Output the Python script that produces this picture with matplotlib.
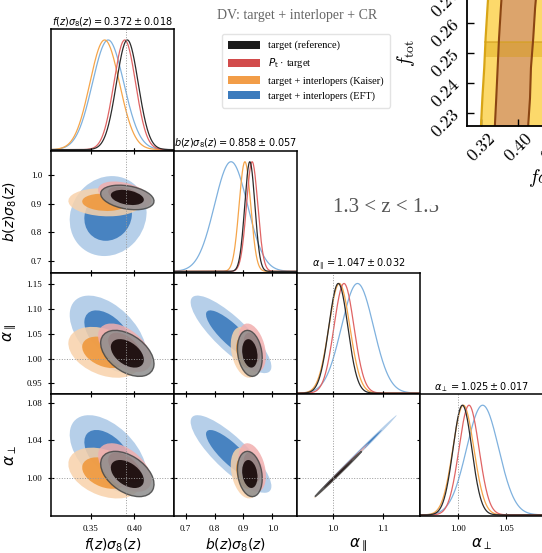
import numpy as np
import matplotlib
matplotlib.use("Agg")
import matplotlib.pyplot as plt
from matplotlib.patches import Ellipse, Patch, Rectangle

W, H = 542, 553

# parameters of the corner plot
labels = [r"$f(z)\sigma_8(z)$", r"$b(z)\sigma_8(z)$", r"$\alpha_\parallel$", r"$\alpha_\perp$"]
titles = [r"$f(z)\sigma_8(z) = 0.372 \pm 0.018$", r"$b(z)\sigma_8(z) = 0.858 \pm 0.057$",
          r"$\alpha_\parallel = 1.047 \pm 0.032$", r"$\alpha_\perp = 1.025 \pm 0.017$"]
lims = [(0.3045, 0.4455), (0.660, 1.085), (0.928, 1.174), (0.960, 1.089)]
xticks = [[0.35, 0.40], [0.7, 0.8, 0.9, 1.0], [1.0, 1.1], [1.00, 1.05]]
xticklabels = [["0.35", "0.40"], ["0.7", "0.8", "0.9", "1.0"], ["1.0", "1.1"], ["1.00", "1.05"]]
yticks = [[], [0.7, 0.8, 0.9, 1.0], [0.95, 1.00, 1.05, 1.10, 1.15], [1.00, 1.04, 1.08]]
yticklabels = [[], ["0.7", "0.8", "0.9", "1.0"], ["0.95", "1.00", "1.05", "1.10", "1.15"], ["1.00", "1.04", "1.08"]]
truths = [0.39, None, 1.0, 1.0]

# chains: names, means, sigmas (fs8, bs8, apar, aper), correlations
chain_names = ["target (reference)", r"$P_{\rm t}$ · target",
               "target + interlopers (Kaiser)", "target + interlopers (EFT)"]
mean_ref = [0.392, 0.922, 1.0106, 1.0045]
mean_pt = [0.389, 0.930, 1.0220, 1.0114]
mean_kai = [0.366, 0.905, 1.0127, 1.0055]
mean_eft = [0.370, 0.857, 1.0490, 1.0257]
sig_ref = [0.0125, 0.0175, 0.0190, 0.0098]
sig_pt = [0.0125, 0.0195, 0.0200, 0.0105]
sig_kai = [0.0170, 0.0200, 0.0210, 0.0110]
sig_eft = [0.0180, 0.0570, 0.0320, 0.0168]
# correlation for pairs (0,1),(0,2),(0,3),(1,2),(1,3),(2,3)
corr_ref = [-0.30, -0.45, -0.45, -0.20, -0.20, 0.998]
corr_pt = [-0.40, -0.50, -0.50, -0.35, -0.35, 0.998]
corr_kai = [-0.10, -0.35, -0.35, -0.30, -0.30, 0.998]
corr_eft = [0.10, -0.50, -0.50, -0.83, -0.83, 0.998]
pairs = [(0, 1), (0, 2), (0, 3), (1, 2), (1, 3), (2, 3)]

line_cols = ["#2b2b2b", "#e06464", "#f5a54a", "#7fb1de"]
outer_cols = ["#8e8e8e", "#f1aeae", "#f8d2ab", "#a9c7e6"]
inner_cols = ["#150707", "#d24b4b", "#f0993d", "#3c7bbd"]
legend_cols = ["#1c1c1c", "#d24b4b", "#f29d48", "#3c7bbd"]

means = [mean_ref, mean_pt, mean_kai, mean_eft]
sigs = [sig_ref, sig_pt, sig_kai, sig_eft]
corrs = [corr_ref, corr_pt, corr_kai, corr_eft]

# overlay panel (f_tot) boundaries
y_ft = [0.2257, 0.235, 0.245, 0.255, 0.265, 0.272]
x_outer_left = [0.320, 0.323, 0.327, 0.330, 0.334, 0.337]
x_inner_left = [0.350, 0.353, 0.356, 0.359, 0.363, 0.366]
x_inner_right = [0.422, 0.426, 0.428, 0.433, 0.437, 0.441]
x_outer_right = [0.60, 0.60, 0.60, 0.60, 0.60, 0.60]
band_y = (0.2487, 0.2537)
band_x = [0.3285, 0.60]


def px(l, t, w, h):
    return [l / W, 1 - (t + h) / H, w / W, h / H]


def ellipse(ax, mx, my, sx, sy, r, k, **kw):
    cov = np.array([[sx * sx, r * sx * sy], [r * sx * sy, sy * sy]])
    vals, vecs = np.linalg.eigh(cov)
    ang = np.degrees(np.arctan2(vecs[1, 1], vecs[0, 1]))
    e = Ellipse((mx, my), 2 * k * np.sqrt(vals[1]), 2 * k * np.sqrt(vals[0]), angle=ang, **kw)
    ax.add_patch(e)


fig = plt.figure(figsize=(W / 100, H / 100), dpi=100)

col_l = [51, 174, 297, 420]
col_w = 123
row_t = [29 + i * 121.75 for i in range(4)]
row_h = 121.75
serif = "Liberation Serif"
k68, k95 = 1.515, 2.448

for i in range(4):
    for j in range(i + 1):
        ax = fig.add_axes(px(col_l[j], row_t[i], col_w, row_h))
        for s in ax.spines.values():
            s.set_linewidth(1.1)
        ax.set_xlim(lims[j])
        ax.set_xticks(xticks[j])
        if i == 3:
            ax.set_xticklabels(xticklabels[j], fontfamily=serif, fontsize=6.5)
            ax.set_xlabel(labels[j], fontsize=10 if j < 2 else 11)
            ax.xaxis.set_label_coords(0.5, -0.17)
        else:
            ax.set_xticklabels([])
        if i == j:
            xs = np.linspace(lims[j][0], lims[j][1], 300)
            for c in [3, 2, 1, 0]:
                m, s = means[c][j], sigs[c][j]
                ax.plot(xs, np.exp(-0.5 * ((xs - m) / s) ** 2), color=line_cols[c], lw=0.9)
            ax.set_ylim(-0.01, 1.1)
            ax.set_yticks([])
            ax.tick_params(axis="x", direction="inout", length=5, width=0.8, bottom=True, top=False, pad=4)
            if truths[j] is not None:
                ax.axvline(truths[j], color="#999999", ls=":", lw=0.7)
            ax.set_title(titles[j], fontsize=7, pad=3)
        else:
            ax.set_ylim(lims[i])
            ax.set_yticks(yticks[i])
            if j == 0:
                ax.set_yticklabels(yticklabels[i], fontfamily=serif, fontsize=6.5)
                ax.set_ylabel(labels[i], fontsize=10 if i == 1 else 11)
                ax.yaxis.set_label_coords(-0.26, 0.5)
            else:
                ax.set_yticklabels([])
            ax.tick_params(direction="inout", length=5, width=0.8, top=True, right=True, pad=4)
            p = pairs.index((j, i))
            for c in [3, 2, 1, 0]:
                mx, my = means[c][j], means[c][i]
                sx, sy = sigs[c][j], sigs[c][i]
                r = corrs[c][p]
                edge = "#454545" if c == 0 else "none"
                ellipse(ax, mx, my, sx, sy, r, k95, facecolor=outer_cols[c], alpha=0.85,
                        edgecolor=edge, lw=1.0)
                ellipse(ax, mx, my, sx, sy, r, k68, facecolor=inner_cols[c], alpha=0.9,
                        edgecolor="none")
            if truths[j] is not None:
                ax.axvline(truths[j], color="#999999", ls=":", lw=0.7)
            if truths[i] is not None:
                ax.axhline(truths[i], color="#999999", ls=":", lw=0.7)

# overlay of the neighbouring figure (top right)
ax_ft = fig.add_axes(px(466.7, -40, 162.6, 166))
ax_ft.set_xlim(0.2891, 0.6407)
ax_ft.set_ylim(0.2257, 0.2810)
ax_ft.fill_betweenx(y_ft, x_outer_left, x_outer_right, color="#fcd96b", lw=0)
ax_ft.fill_betweenx(y_ft, x_inner_left, x_inner_right, color="#dca46c", lw=0)
ax_ft.fill_between(band_x, band_y[0], band_y[1], color="#d49a00", alpha=0.35, lw=0)
ax_ft.plot(band_x, [band_y[1], band_y[1]], color="#d4a020", lw=1.2, alpha=0.7)
ax_ft.plot(x_outer_left, y_ft, color="#d8a516", lw=1.6)
ax_ft.plot(x_inner_left, y_ft, color="#8b4513", lw=1.5)
ax_ft.plot(x_inner_right, y_ft, color="#8b4513", lw=1.5)
for s in ["top", "right"]:
    ax_ft.spines[s].set_visible(False)
for s in ["left", "bottom"]:
    ax_ft.spines[s].set_linewidth(1.3)
ax_ft.set_xticks([0.32, 0.40, 0.48])
ax_ft.set_xticklabels(["0.32", "0.40", "0.48"], rotation=45, fontfamily="cmr10", fontsize=13)
ax_ft.set_yticks([0.23, 0.24, 0.25, 0.26, 0.27])
ax_ft.set_yticklabels(["0.23", "0.24", "0.25", "0.26", "0.27"], rotation=45, fontfamily="cmr10", fontsize=13)
ax_ft.tick_params(direction="in", length=5, width=1.0, top=False, right=False, pad=3)
ax_ft.set_ylabel(r"$f_{\rm tot}$", math_fontfamily="cm", fontsize=14)
ax_ft.yaxis.set_label_coords(-0.305, 0.44)
fig.text(528 / W, 1 - 178 / H, r"$f\sigma_8$", math_fontfamily="cm", fontsize=14, ha="left", va="center")

# figure texts and legend
fig.text(217 / W, 1 - 15 / H, "DV: target + interloper + CR", fontfamily=serif, fontsize=10,
         color="#666666", va="center")
fig.text(333 / W, 1 - 207 / H, "1.3 < z < 1.5", fontfamily=serif, fontsize=15,
         color="#555555", va="center")
fig.patches.append(Rectangle((423 / W, 1 - 205 / H), 30 / W, 15 / H, transform=fig.transFigure,
                             facecolor="white", edgecolor="none", zorder=5))

handles = [Patch(facecolor=legend_cols[c], label=chain_names[c]) for c in range(4)]
fig.legend(handles=handles, loc="upper left", bbox_to_anchor=(217 / W, 1 - 29 / H),
           prop={"family": serif, "size": 7.5}, frameon=True, edgecolor="#dddddd",
           handlelength=3.0, handleheight=0.8, labelspacing=0.55, borderpad=0.6)

fig.savefig("out.png", dpi=100)
